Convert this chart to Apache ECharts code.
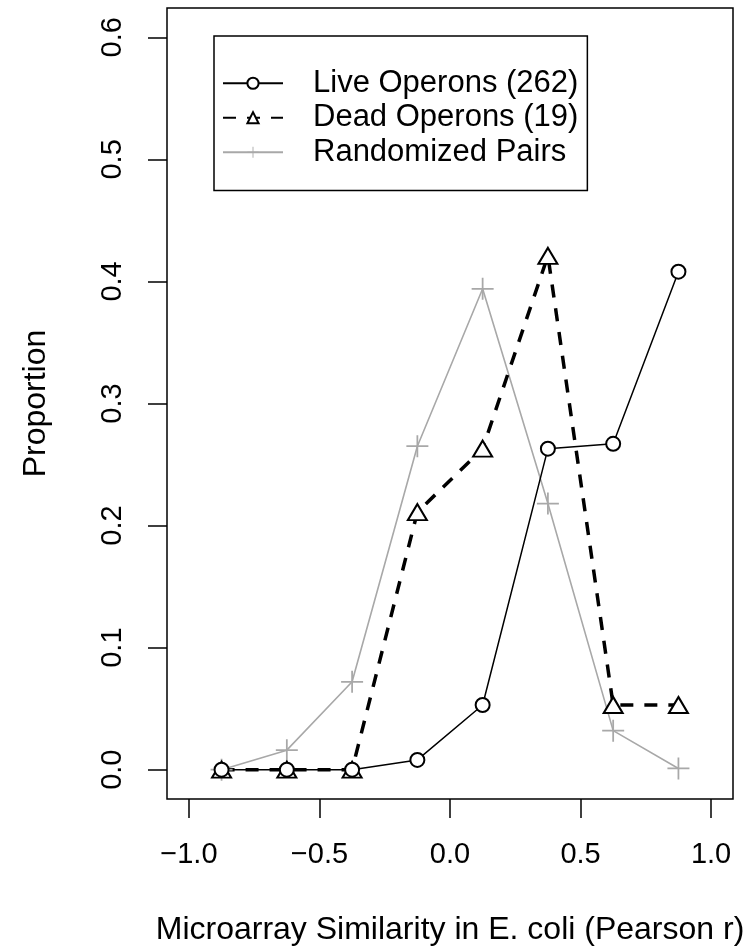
<!DOCTYPE html>
<html>
<head>
<meta charset="utf-8">
<script src="https://cdn.jsdelivr.net/npm/echarts@6/dist/echarts.min.js"></script>
<style>
  html, body { margin: 0; padding: 0; background: #fff; }
  #chart { width: 756px; height: 951px; }
</style>
</head>
<body>
<div id="chart"></div>
<script>
// bin centres of Pearson r
const binCenters = [-0.875, -0.625, -0.375, -0.125, 0.125, 0.375, 0.625, 0.875];
const liveOperons = [0, 0, 0, 0.008, 0.053, 0.263, 0.267, 0.408];
const deadOperons = [0, 0, 0, 0.211, 0.263, 0.421, 0.053, 0.053];
const randomPairs = [0, 0.016, 0.072, 0.265, 0.394, 0.218, 0.032, 0.001];
const xTicks = [-1, -0.5, 0, 0.5, 1];
const yTicks = [0, 0.1, 0.2, 0.3, 0.4, 0.5, 0.6];

const font = "'Liberation Sans', Arial, sans-serif";

function pairs(vals) {
    return binCenters.map((x, i) => [x, vals[i]]);
}

// R style minus sign
function fmt(v) {
    const s = v.toFixed(1);
    return v < 0 ? "\u2212" + s.slice(1) : s;
}

const chart = echarts.init(document.getElementById("chart"));

const options = {
    animation: false,
    backgroundColor: "#fff",
    grid: {
        left: 167, right: 23, top: 8, bottom: 150,
        show: true, borderColor: "#000", borderWidth: 1.5
    },
    legend: {
        orient: "vertical",
        left: 214, top: 36,
        padding: [30, 9, 21, 8],
        itemGap: 0,
        itemWidth: 60, itemHeight: 14,
        borderColor: "#000", borderWidth: 1.5,
        textStyle: { fontFamily: font, fontSize: 31, color: "#000", lineHeight: 34.5, padding: [0, 0, 0, 25] },
        data: ["Live Operons (262)", "Dead Operons (19)", "Randomized Pairs"]
    },
    xAxis: {
        type: "value",
        min: -1.084, max: 1.084,
        name: "Microarray Similarity in E. coli (Pearson r)",
        nameLocation: "middle",
        nameGap: 115,
        nameTextStyle: { fontFamily: font, fontSize: 32, color: "#000" },
        axisLine: { show: false, onZero: false },
        splitLine: { show: false },
        axisTick: { show: true, length: 19, lineStyle: { color: "#000", width: 1.5 }, customValues: xTicks },
        axisLabel: { fontFamily: font, fontSize: 29, color: "#000", margin: 41, customValues: xTicks, formatter: fmt }
    },
    yAxis: {
        type: "value",
        min: -0.024, max: 0.624,
        name: "Proportion",
        nameLocation: "middle",
        nameGap: 115,
        nameTextStyle: { fontFamily: font, fontSize: 32, color: "#000" },
        axisLine: { show: false, onZero: false },
        splitLine: { show: false },
        axisTick: { show: true, length: 19, lineStyle: { color: "#000", width: 1.5 }, customValues: yTicks },
        axisLabel: { fontFamily: font, fontSize: 29, color: "#000", margin: 40, rotate: 90, customValues: yTicks, formatter: fmt }
    },
    series: [
        {
            name: "Randomized Pairs",
            type: "line",
            data: pairs(randomPairs),
            symbol: "path://M0,4.6 H10 V5.4 H0 Z M4.6,0 H5.4 V10 H4.6 Z",
            symbolSize: 22,
            itemStyle: { color: "#a8a8a8" },
            lineStyle: { color: "#a8a8a8", width: 1.6 }
        },
        {
            name: "Dead Operons (19)",
            type: "line",
            data: pairs(deadOperons),
            symbol: "emptyTriangle",
            symbolSize: [19, 16],
            itemStyle: { color: "#000", borderColor: "#000", borderWidth: 1.6 },
            lineStyle: { color: "#000", width: 3.5, type: [13, 11] }
        },
        {
            name: "Live Operons (262)",
            type: "line",
            data: pairs(liveOperons),
            symbol: "emptyCircle",
            symbolSize: 14,
            itemStyle: { color: "#000", borderColor: "#000", borderWidth: 1.5 },
            lineStyle: { color: "#000", width: 1.5 }
        }
    ]
};

chart.setOption(options);
</script>
</body>
</html>
